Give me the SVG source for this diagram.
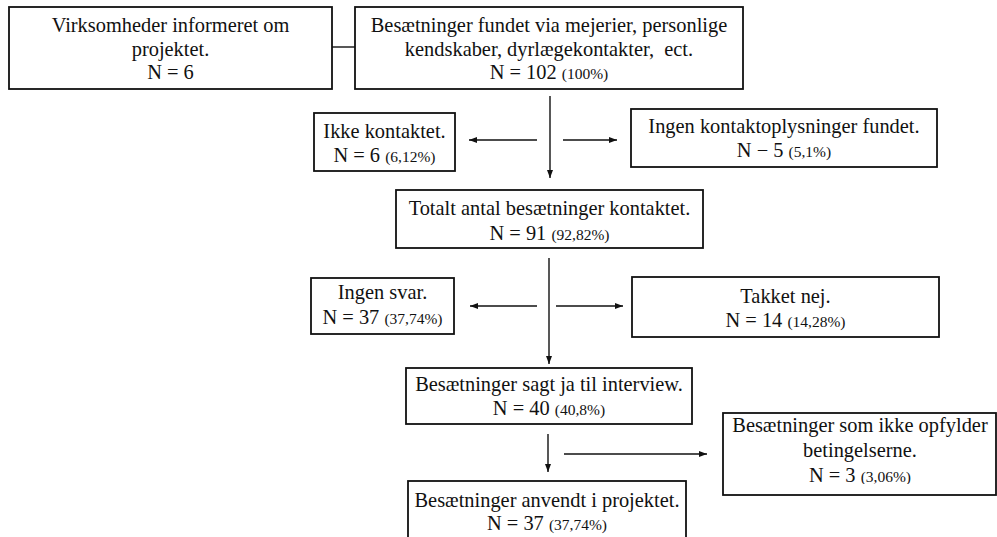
<svg xmlns="http://www.w3.org/2000/svg" width="997" height="537" viewBox="0 0 997 537">
<style>
.box{fill:#fff;stroke:#111;stroke-width:1.8}
.t{font-family:"Liberation Serif","Times New Roman",serif;font-size:20.4px;fill:#111;text-anchor:middle}
.s{font-size:15.5px}
.c{stroke:#111;stroke-width:1.4;fill:none}
</style>
<defs>
<marker id="ah" markerUnits="userSpaceOnUse" markerWidth="8" markerHeight="6" refX="8" refY="3" orient="auto">
<path d="M0,0 L8,3 L0,6 z" fill="#111"/>
</marker>
<clipPath id="clipN3"><rect x="723" y="413" width="274" height="71"/></clipPath>
</defs>
<rect width="997" height="537" fill="#fff"/>

<g id="connectors">
<line class="c" x1="332" y1="47" x2="355" y2="47"/>
<line class="c" x1="550" y1="96" x2="550" y2="178" marker-end="url(#ah)"/>
<line class="c" x1="537" y1="140" x2="469" y2="140" marker-end="url(#ah)"/>
<line class="c" x1="563" y1="140" x2="617" y2="140" marker-end="url(#ah)"/>
<line class="c" x1="549" y1="258" x2="549" y2="364" marker-end="url(#ah)"/>
<line class="c" x1="537" y1="306" x2="470" y2="306" marker-end="url(#ah)"/>
<line class="c" x1="556" y1="306" x2="623" y2="306" marker-end="url(#ah)"/>
<line class="c" x1="548" y1="434" x2="548" y2="472" marker-end="url(#ah)"/>
<line class="c" x1="564" y1="454" x2="707" y2="454" marker-end="url(#ah)"/>
</g>

<g id="n_virksomheder">
<rect class="box" x="9" y="7" width="323" height="82"/>
<text class="t" x="170.5" y="32">Virksomheder informeret om</text>
<text class="t" x="170.5" y="55.5">projektet.</text>
<text class="t" x="170.5" y="79">N = 6</text>
</g>

<g id="n_fundet">
<rect class="box" x="355" y="7" width="388" height="82"/>
<text class="t" x="549" y="32">Besætninger fundet via mejerier, personlige</text>
<text class="t" x="549" y="55.5">kendskaber, dyrlægekontakter,&#160; ect.</text>
<text class="t" x="549" y="79">N = 102 <tspan class="s">(100%)</tspan></text>
</g>

<g id="n_ikke_kontaktet">
<rect class="box" x="314" y="113" width="141" height="58"/>
<text class="t" x="384.5" y="138">Ikke kontaktet.</text>
<text class="t" x="384.5" y="162">N = 6 <tspan class="s">(6,12%)</tspan></text>
</g>

<g id="n_ingen_kontakt">
<rect class="box" x="631" y="109" width="306" height="58"/>
<text class="t" x="784" y="133">Ingen kontaktoplysninger fundet.</text>
<text class="t" x="784" y="157">N − 5 <tspan class="s">(5,1%)</tspan></text>
</g>

<g id="n_totalt">
<rect class="box" x="396" y="190" width="307" height="58"/>
<text class="t" x="549.5" y="215">Totalt antal besætninger kontaktet.</text>
<text class="t" x="549.5" y="240">N = 91 <tspan class="s">(92,82%)</tspan></text>
</g>

<g id="n_ingen_svar">
<rect class="box" x="311" y="278" width="143" height="56"/>
<text class="t" x="382.5" y="299">Ingen svar.</text>
<text class="t" x="382.5" y="324">N = 37 <tspan class="s">(37,74%)</tspan></text>
</g>

<g id="n_takket_nej">
<rect class="box" x="632" y="277" width="307" height="60"/>
<text class="t" x="785.5" y="303">Takket nej.</text>
<text class="t" x="785.5" y="327">N = 14 <tspan class="s">(14,28%)</tspan></text>
</g>

<g id="n_sagt_ja">
<rect class="box" x="406" y="368" width="286" height="56"/>
<text class="t" x="549" y="391">Besætninger sagt ja til interview.</text>
<text class="t" x="549" y="415">N = 40 <tspan class="s">(40,8%)</tspan></text>
</g>

<g id="n_ikke_opfylder">
<rect class="box" x="723" y="413" width="273" height="82"/>
<text class="t" x="860" y="432">Besætninger som ikke opfylder</text>
<text class="t" x="860" y="457">betingelserne.</text>
<text class="t" x="860" y="482" clip-path="url(#clipN3)">N = 3 <tspan class="s">(3,06%)</tspan></text>
</g>

<g id="n_anvendt">
<rect class="box" x="408" y="481" width="278" height="70"/>
<text class="t" x="547" y="507">Besætninger anvendt i projektet.</text>
<text class="t" x="547" y="530">N = 37 <tspan class="s">(37,74%)</tspan></text>
</g>
</svg>
